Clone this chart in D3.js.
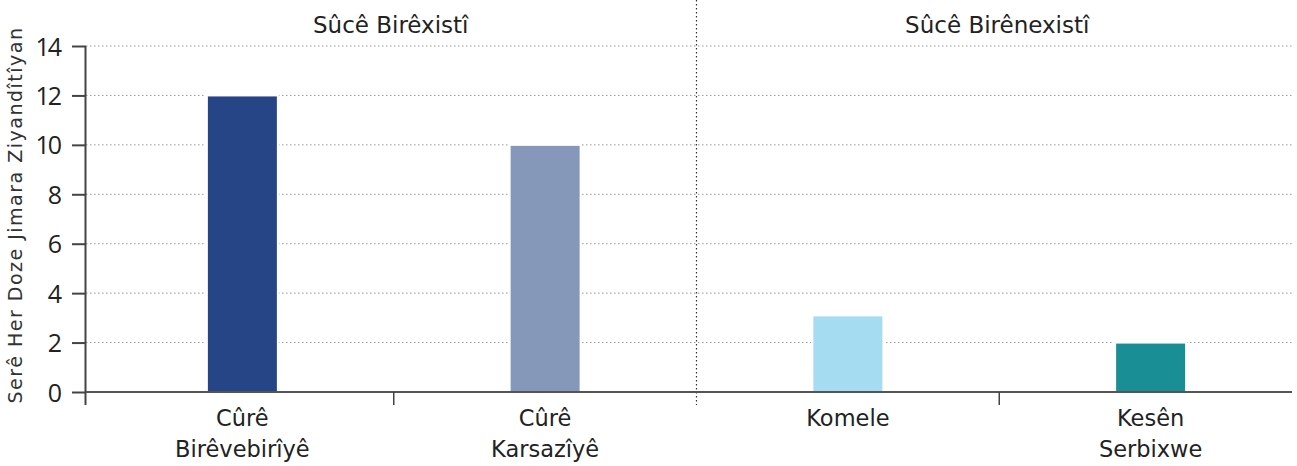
<!DOCTYPE html>
<html><head><meta charset="utf-8">
<script src="https://cdn.jsdelivr.net/npm/d3@7"></script>
<style>body{margin:0;background:#fff;} svg{display:block;font-family:"DejaVu Sans",sans-serif;}</style>
</head><body>
<svg id="c" width="1297" height="466"></svg>
<script>
const categories = ["Cûrê\nBirêvebirîyê", "Cûrê\nKarsazîyê", "Komele", "Kesên\nSerbixwe"];
const values = [12, 10, 3.1, 2];
const colors = ["#264587", "#8598BA", "#A5DCF2", "#1A8E95"];
const groups = ["Sûcê Birêxistî", "Sûcê Birênexistî"];
const yTicks = [0, 2, 4, 6, 8, 10, 12, 14];
const yTitle = "Serê Her Doze Jimara Ziyandîtîyan";

const svg = d3.select("#c");
const x = d3.scaleBand().domain(d3.range(categories.length)).range([91, 1302]).paddingInner(0).paddingOuter(0);
const y = d3.scaleLinear().domain([0, 14]).range([392, 46]);
const axisLeft = 86, axisRight = 1292;
const barW = 71;

svg.append("g").selectAll("line").data(yTicks.filter(d => d > 0)).join("line")
  .attr("x1", axisLeft).attr("x2", axisRight)
  .attr("y1", d => y(d)).attr("y2", d => y(d))
  .attr("stroke", "#999").attr("stroke-width", 1).attr("stroke-dasharray", "1.5,2.5");

svg.append("line").attr("x1", x(2)).attr("x2", x(2)).attr("y1", 0).attr("y2", 405)
  .attr("stroke", "#333").attr("stroke-width", 1.2).attr("stroke-dasharray", "1.5,2.5");

svg.append("g").selectAll("rect").data(values).join("rect")
  .attr("x", (d, i) => x(i) + x.bandwidth() / 2 - barW / 2)
  .attr("width", barW)
  .attr("y", d => y(d)).attr("height", d => y(0) - y(d))
  .attr("fill", (d, i) => colors[i])
  .attr("stroke", "#fff").attr("stroke-width", 2);

const ya = d3.axisLeft(y).tickValues(yTicks).tickSize(14).tickPadding(12);
const yg = svg.append("g").attr("transform", `translate(${axisLeft},0)`).call(ya);
yg.select(".domain").attr("d", `M-0.5,${y(14)}V405`).attr("stroke", "#444").attr("stroke-width", 2);
yg.selectAll(".tick line").attr("stroke", "#444").attr("stroke-width", 2);
yg.selectAll(".tick text").attr("font-size", 25).attr("fill", "#222").attr("font-family", "Open Sans").attr("letter-spacing", -2).attr("dy", "0.36em");

svg.append("line").attr("x1", axisLeft).attr("x2", axisRight).attr("y1", y(0)).attr("y2", y(0))
  .attr("stroke", "#555").attr("stroke-width", 2);
svg.append("g").selectAll("line").data([1, 3]).join("line")
  .attr("x1", d => x(d)).attr("x2", d => x(d)).attr("y1", y(0)).attr("y2", 405)
  .attr("stroke", "#444").attr("stroke-width", 1.5);

const cl = svg.append("g").selectAll("text").data(categories).join("text")
  .attr("x", (d, i) => x(i) + x.bandwidth() / 2)
  .attr("y", 426).attr("text-anchor", "middle").attr("font-size", 22.5).attr("fill", "#222");
cl.each(function(d) {
  const parts = d.split("\n");
  d3.select(this).selectAll("tspan").data(parts).join("tspan")
    .attr("x", d3.select(this).attr("x")).attr("dy", (p, j) => j === 0 ? 0 : 31).text(p => p);
});

const gCenters = [(x(0) + x(2)) / 2 - 3, (x(2) + x(3) + x.bandwidth()) / 2 - 2];
svg.append("g").selectAll("text").data(groups).join("text")
  .attr("x", (d, i) => gCenters[i]).attr("y", 33)
  .attr("text-anchor", "middle").attr("font-size", 23).attr("fill", "#222").text(d => d);

svg.append("text").attr("transform", `translate(22,215) rotate(-90)`)
  .attr("text-anchor", "middle").attr("font-size", 19).attr("fill", "#333").attr("letter-spacing", 1.5).text(yTitle);
</script>
</body></html>
